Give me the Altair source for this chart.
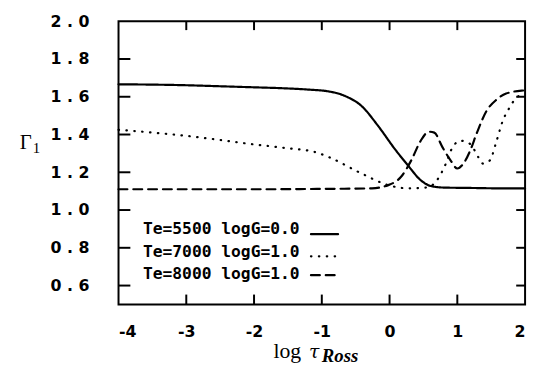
import altair as alt
import pandas as pd

# ---- data ----
series_names = ["Te=5500 logG=0.0", "Te=7000 logG=1.0", "Te=8000 logG=1.0"]

x_5500 = [-4.0, -3.0, -2.54, -2.0, -1.57, -1.2, -0.895, -0.65, -0.41, -0.17, 0.076, 0.27, 0.46, 0.61, 0.80, 1.2, 1.6, 2.0]
y_5500 = [1.666, 1.661, 1.656, 1.650, 1.645, 1.638, 1.628, 1.603, 1.55, 1.446, 1.324, 1.237, 1.158, 1.127, 1.119, 1.117, 1.115, 1.115]

x_7000 = [-4.0, -3.52, -3.03, -2.54, -2.06, -1.57, -1.09, -0.895, -0.41, -0.02, 0.27, 0.56, 0.70, 0.83, 0.93, 1.05, 1.19, 1.31, 1.38, 1.48, 1.58, 1.67, 1.77, 1.87, 1.97, 2.0]
y_7000 = [1.425, 1.411, 1.394, 1.373, 1.35, 1.33, 1.306, 1.28, 1.193, 1.132, 1.115, 1.12, 1.158, 1.245, 1.333, 1.367, 1.35, 1.28, 1.246, 1.263, 1.367, 1.472, 1.542, 1.594, 1.612, 1.614]

x_8000 = [-4.0, -3.0, -2.0, -1.0, -0.26, -0.02, 0.17, 0.32, 0.46, 0.58, 0.66, 0.78, 0.90, 1.0, 1.09, 1.19, 1.29, 1.43, 1.58, 1.72, 1.97, 2.0]
y_8000 = [1.11, 1.11, 1.11, 1.112, 1.115, 1.132, 1.176, 1.263, 1.367, 1.415, 1.41, 1.333, 1.263, 1.22, 1.246, 1.315, 1.41, 1.524, 1.585, 1.617, 1.633, 1.634]

x_tick_labels = [-4, -3, -2, -1, 0, 1, 2]
y_tick_labels = [0.6, 0.8, 1.0, 1.2, 1.4, 1.6, 1.8, 2.0]
x_tick_marks = [-3, -2, -1, 0, 1]
y_tick_marks = [0.6, 0.8, 1.0, 1.2, 1.4, 1.6, 1.8]

legend_text_x = [-3.64, -3.64, -3.64]
legend_text_y = [0.90, 0.78, 0.66]
legend_line_x0 = [-1.16, -1.16, -1.16]
legend_line_x1 = [-0.76, -0.76, -0.74]
legend_line_y = [0.872, 0.755, 0.655]

x_title_log = ["log"]
x_title_tau = ["\u03c4"]
x_title_sub = ["Ross"]
y_title_main = ["\u0393"]
y_title_sub = ["1"]

# ---- tables ----
rows = []
for name, xs_, ys_ in zip(series_names, [x_5500, x_7000, x_8000], [y_5500, y_7000, y_8000]):
    for a, b in zip(xs_, ys_):
        rows.append({"series": name, "x": a, "y": b})
df = pd.DataFrame(rows)

leg_df = pd.DataFrame({
    "series": series_names,
    "tx": legend_text_x, "ty": legend_text_y,
    "lx0": legend_line_x0, "lx1": legend_line_x1, "ly": legend_line_y,
})

xscale = alt.Scale(domain=[-4, 2], nice=False, zero=False)
yscale = alt.Scale(domain=[0.5, 2.0], nice=False, zero=False)
dash_scale = alt.Scale(domain=series_names, range=[[1, 0], [0.5, 7.5], [9, 6]])

label_font = "DejaVu Sans"

xaxis = alt.Axis(
    values=x_tick_labels, title=None, ticks=False, tickSize=0, domain=False, grid=False,
    labelFont=label_font, labelFontSize=16, labelFontWeight="bold", labelColor="black",
    labelPadding=19, labelBaseline="top",
    labelExpr="datum.value < 0 ? '-' + abs(datum.value) : '' + datum.value")
yaxis = alt.Axis(
    values=y_tick_labels, title=None, ticks=False, tickSize=0, domain=False, grid=False,
    labelFont=label_font, labelFontSize=16, labelFontWeight="bold", labelColor="black",
    labelPadding=30,
    labelExpr="replace(format(datum.value, '.1f'), '.', '\u00a0.\u00a0')")

lines = alt.Chart(df).mark_line(
    color="black", strokeWidth=2.2, interpolate="monotone", strokeCap="round"
).encode(
    x=alt.X("x:Q", scale=xscale, axis=xaxis),
    y=alt.Y("y:Q", scale=yscale, axis=yaxis),
    strokeDash=alt.StrokeDash("series:N", scale=dash_scale, legend=None),
)

ytick_df = pd.DataFrame({"v": y_tick_marks})
xtick_df = pd.DataFrame({"v": x_tick_marks})

left_ticks = alt.Chart(ytick_df).mark_rule(color="black", strokeWidth=2).encode(
    y=alt.Y("v:Q", scale=yscale, axis=yaxis), x=alt.value(0), x2=alt.value(12))
right_ticks = alt.Chart(ytick_df).mark_rule(color="black", strokeWidth=2).encode(
    y=alt.Y("v:Q", scale=yscale, axis=yaxis), x=alt.value(403), x2=alt.value(412))
bottom_ticks = alt.Chart(xtick_df).mark_rule(color="black", strokeWidth=2).encode(
    x=alt.X("v:Q", scale=xscale, axis=xaxis), y=alt.value(287), y2=alt.value(277))
top_ticks = alt.Chart(xtick_df).mark_rule(color="black", strokeWidth=2).encode(
    x=alt.X("v:Q", scale=xscale, axis=xaxis), y=alt.value(0), y2=alt.value(9))

leg_text = alt.Chart(leg_df).mark_text(
    font="DejaVu Sans Mono", fontSize=16.5, fontWeight="bold", align="left", baseline="middle", color="black"
).encode(
    x=alt.X("tx:Q", scale=xscale, axis=xaxis),
    y=alt.Y("ty:Q", scale=yscale, axis=yaxis),
    text="series:N",
)

leg_lines = alt.Chart(leg_df).mark_rule(color="black", strokeWidth=2.2, strokeCap="round").encode(
    x=alt.X("lx0:Q", scale=xscale, axis=xaxis),
    x2="lx1:Q",
    y=alt.Y("ly:Q", scale=yscale, axis=yaxis),
    strokeDash=alt.StrokeDash("series:N", scale=dash_scale, legend=None),
)

xt1 = alt.Chart(pd.DataFrame({"t": x_title_log})).mark_text(
    font="Liberation Serif", fontSize=22, align="left", baseline="alphabetic", color="black"
).encode(x=alt.value(157), y=alt.value(341), text="t:N")
xt2 = alt.Chart(pd.DataFrame({"t": x_title_tau})).mark_text(
    font="DejaVu Serif", fontSize=19, fontStyle="italic", align="left", baseline="alphabetic", color="black"
).encode(x=alt.value(193), y=alt.value(341), text="t:N")
xt3 = alt.Chart(pd.DataFrame({"t": x_title_sub})).mark_text(
    font="Liberation Serif", fontSize=19, fontStyle="italic", fontWeight="bold",
    align="left", baseline="alphabetic", color="black"
).encode(x=alt.value(206), y=alt.value(345), text="t:N")
yt1 = alt.Chart(pd.DataFrame({"t": y_title_main})).mark_text(
    font="Liberation Serif", fontSize=21, align="left", baseline="alphabetic", color="black"
).encode(x=alt.value(-100), y=alt.value(129), text="t:N")
yt2 = alt.Chart(pd.DataFrame({"t": y_title_sub})).mark_text(
    font="Liberation Serif", fontSize=15, align="left", baseline="alphabetic", color="black"
).encode(x=alt.value(-87), y=alt.value(134), text="t:N")

chart = alt.layer(
    lines, left_ticks, right_ticks, bottom_ticks, top_ticks, leg_text, leg_lines, xt1, xt2, xt3, yt1, yt2
).properties(
    width=412, height=287,
    autosize=alt.AutoSizeParams(type="none"),
    padding={"left": 112, "top": 11, "right": 6, "bottom": 62},
    background="white",
).configure_view(stroke="black", strokeWidth=2)

chart.save("out.html", embed_options={"renderer": "svg", "actions": False})
